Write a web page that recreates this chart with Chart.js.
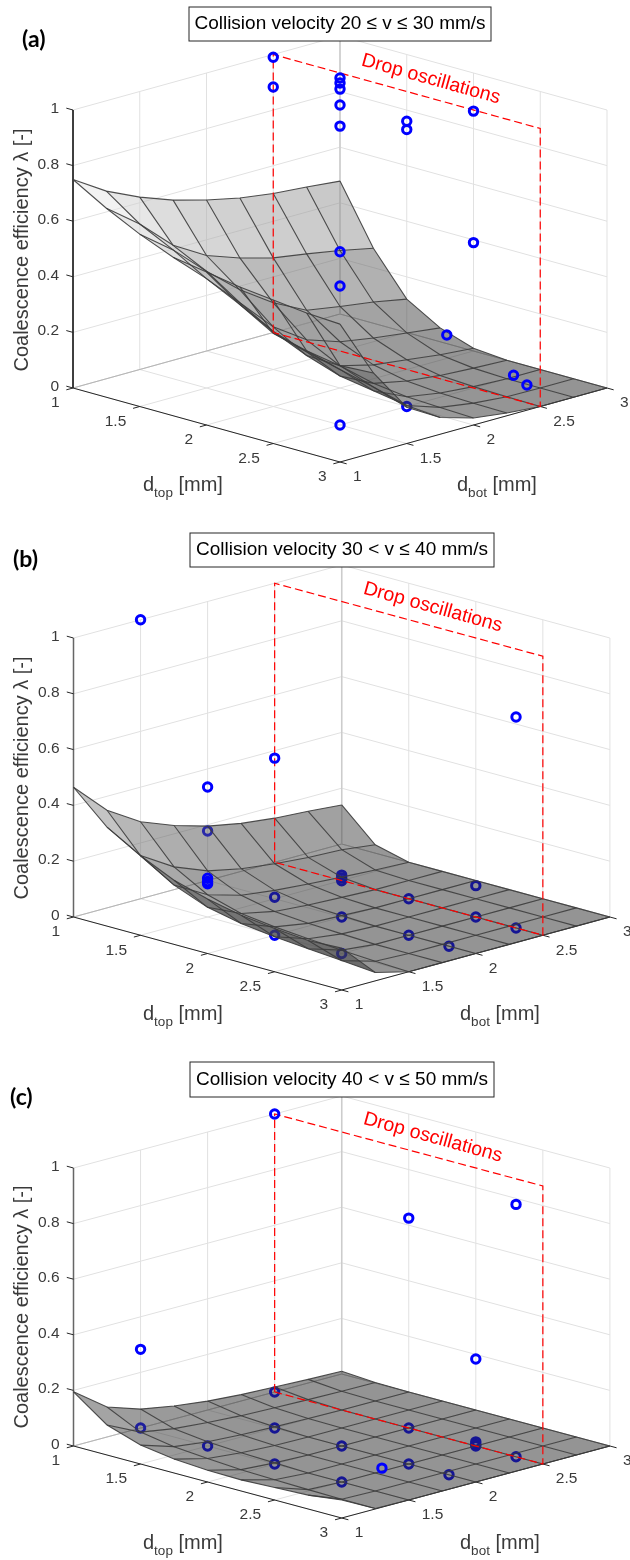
<!DOCTYPE html>
<html>
<head>
<meta charset="utf-8">
<title>Coalescence efficiency</title>
<script src="https://cdn.jsdelivr.net/npm/chart.js@4"></script>
<style>
    html, body { margin: 0; padding: 0; background: #fff; }
    canvas { display: block; }
</style>
</head>
<body>
<canvas id="chartA" width="630" height="520"></canvas>
<canvas id="chartB" width="630" height="520"></canvas>
<canvas id="chartC" width="630" height="520"></canvas>
<script>
// Axis ticks
var dTicks = [1, 1.5, 2, 2.5, 3];
var dTickLabels = ['1', '1.5', '2', '2.5', '3'];
var lambdaTicks = [0, 0.2, 0.4, 0.6, 0.8, 1];
var lambdaTickLabels = ['0', '0.2', '0.4', '0.6', '0.8', '1'];

// Surface grid: rows are d_top, columns are d_bot
var gridValues = [1, 1.25, 1.5, 1.75, 2, 2.25, 2.5, 2.75, 3];

var surfaceA = [
    [0.75, 0.675, 0.62, 0.576, 0.543, 0.517, 0.50, 0.49, 0.478],
    [0.68, 0.59, 0.48, 0.41, 0.368, 0.335, 0.316, 0.295, 0.27],
    [0.62, 0.53, 0.42, 0.32, 0.24, 0.18, 0.16, 0.143, 0.12],
    [0.57, 0.46, 0.34, 0.22, 0.14, 0.10, 0.08, 0.065, 0.05],
    [0.55, 0.40, 0.27, 0.15, 0.08, 0.05, 0.035, 0.02, 0.01],
    [0.53, 0.33, 0.23, 0.11, 0.05, 0.025, 0.012, 0.005, 0],
    [0.516, 0.30, 0.20, 0.09, 0.035, 0.015, 0.005, 0, 0],
    [0.503, 0.28, 0.17, 0.07, 0.03, 0.012, 0.002, 0, 0],
    [0.496, 0.287, 0.13, 0.06, 0.025, 0.01, 0, 0, 0]
];
var surfaceB = [
    [0.465, 0.35, 0.276, 0.23, 0.195, 0.172, 0.158, 0.15, 0.14],
    [0.355, 0.22, 0.147, 0.10, 0.075, 0.06, 0.05, 0.045, 0.03],
    [0.285, 0.147, 0.08, 0.045, 0.03, 0.02, 0.012, 0.005, 0],
    [0.23, 0.10, 0.045, 0.02, 0.01, 0.005, 0, 0, 0],
    [0.195, 0.075, 0.03, 0.01, 0.005, 0, 0, 0, 0],
    [0.17, 0.06, 0.02, 0.005, 0, 0, 0, 0, 0],
    [0.155, 0.05, 0.012, 0, 0, 0, 0, 0, 0],
    [0.145, 0.04, 0.005, 0, 0, 0, 0, 0, 0],
    [0.15, 0.03, 0, 0, 0, 0, 0, 0, 0]
];
var surfaceC = [
    [0.195, 0.108, 0.068, 0.047, 0.032, 0.023, 0.018, 0.013, 0.01],
    [0.108, 0.05, 0.03, 0.02, 0.012, 0.008, 0.005, 0.003, 0.002],
    [0.068, 0.03, 0.015, 0.008, 0.004, 0.002, 0, 0, 0],
    [0.05, 0.02, 0.008, 0.002, 0, 0, 0, 0, 0],
    [0.042, 0.012, 0.004, 0, 0, 0, 0, 0, 0],
    [0.04, 0.008, 0, 0, 0, 0, 0, 0, 0],
    [0.045, 0.005, 0, 0, 0, 0, 0, 0, 0],
    [0.05, 0.003, 0, 0, 0, 0, 0, 0, 0],
    [0.065, 0.002, 0, 0, 0, 0, 0, 0, 0]
];

// Measured drops [d_top, d_bot, lambda]; "under" ones are seen through the surface
var dropsOverA = [
    [1, 2.5, 0.99], [1, 2.5, 0.883],
    [1.5, 2.5, 0.982], [1.5, 2.5, 0.964], [1.5, 2.5, 0.942], [1.5, 2.5, 0.885], [1.5, 2.5, 0.809],
    [2, 2, 0.49], [2, 2, 0.367],
    [2, 2.5, 0.893], [2, 2.5, 0.863],
    [2.5, 2.5, 0.996], [2.5, 2.5, 0.523],
    [2.3, 2.5, 0.164], [2.8, 2.5, 0.086], [2.9, 2.5, 0.064]
];
var dropsUnderA = [[2.5, 1.5, 0], [2.5, 2, 0]];

var dropsOverB = [
    [1, 1.5, 1], [1.5, 1.5, 0.466],
    [1.5, 1.5, 0.139], [1.5, 1.5, 0.127], [1.5, 1.5, 0.119],
    [1.5, 2, 0.504], [2.8, 2.5, 0.756]
];
var dropsUnderB = [
    [1.5, 1.5, 0.308], [2, 1.5, 0.136], [2, 1.5, 0],
    [2, 2, 0.15], [2, 2, 0.14], [2, 2, 0.13], [2, 2, 0], [2.5, 1.5, 0],
    [2, 2.5, 0], [2.5, 2, 0], [2.25, 2.75, 0.047], [2.5, 2.5, 0],
    [2.8, 2, 0], [2.8, 2.5, 0]
];

var dropsOverC = [
    [1, 1.5, 0.283], [1, 2.5, 1], [2, 2.5, 0.755], [2.5, 2.5, 0.313],
    [2.8, 2.5, 0.908], [2.5, 1.8, 0.011]
];
var dropsUnderC = [
    [1, 1.5, 0], [1.5, 1.5, 0], [1, 2.5, 0], [1.5, 2, 0], [2, 1.5, 0],
    [2, 2, 0], [2.5, 1.5, 0], [2, 2.5, 0], [2.5, 2, 0],
    [2.5, 2.5, 0.015], [2.5, 2.5, 0.006], [2.5, 2.5, 0],
    [2.8, 2, 0], [2.8, 2.5, 0]
];

// Drop oscillations boundary: plane d_bot = 2.5
var oscillationBot = 2.5;

var panels = [
    {
        canvas: 'chartA', tag: '(a)', tagX: 22, tagY: 47,
        title: 'Collision velocity 20 \u2264 v \u2264 30 mm/s',
        box: [189, 7, 302, 34], surface: surfaceA, over: dropsOverA, under: dropsUnderA,
        view: { x0: 73, y0: 388, ux: 133.5, uy: 37, uz: 278 },
        zColor: '#262626', zWidth: 1,
        labelY: 491, topX: 143, botX: 457, sideY: 250
    },
    {
        canvas: 'chartB', tag: '(b)', tagX: 13, tagY: 47,
        title: 'Collision velocity 30 < v \u2264 40 mm/s',
        box: [190, 13, 304, 34], surface: surfaceB, over: dropsOverB, under: dropsUnderB,
        view: { x0: 73.5, y0: 397, ux: 134.1, uy: 36.5, uz: 279 },
        zColor: '#666666', zWidth: 1.5,
        labelY: 500, topX: 143, botX: 460, sideY: 258
    },
    {
        canvas: 'chartC', tag: '(c)', tagX: 10, tagY: 65,
        title: 'Collision velocity 40 < v \u2264 50 mm/s',
        box: [190, 22, 304, 35], surface: surfaceC, over: dropsOverC, under: dropsUnderC,
        view: { x0: 73.5, y0: 406, ux: 134.1, uy: 36, uz: 278 },
        zColor: '#666666', zWidth: 1.5,
        labelY: 509, topX: 143, botX: 460, sideY: 267
    }
];

var textFont = '"Liberation Sans", Arial, sans-serif';
var textColor = '#3a3a3a';

// Oblique view of the box, in the units of the hidden chart scales
function project(view, dTop, dBot, lambda) {
    return {
        x: view.x0 + view.ux * ((dTop - 1) + (dBot - 1)),
        y: view.y0 + view.uy * ((dTop - 1) - (dBot - 1)) - view.uz * lambda
    };
}

function lineSet(view, pts, color, width, dash) {
    return {
        type: 'scatter',
        showLine: true,
        data: pts.map(function (p) { return project(view, p[0], p[1], p[2]); }),
        borderColor: color,
        borderWidth: width,
        borderDash: dash || [],
        pointRadius: 0,
        fill: false,
        clip: false
    };
}

function markerSet(view, pts) {
    return {
        type: 'scatter',
        showLine: false,
        data: pts.map(function (p) { return project(view, p[0], p[1], p[2]); }),
        pointStyle: 'circle',
        pointRadius: 4.2,
        pointBorderWidth: 3,
        pointBorderColor: '#0000ff',
        pointBackgroundColor: 'rgba(0,0,0,0)',
        clip: false
    };
}

// Half transparent face: lighter when the face sits higher
function faceSet(view, surface, i, j) {
    var g = gridValues;
    var corners = [
        [g[i], g[j], surface[i][j]],
        [g[i + 1], g[j], surface[i + 1][j]],
        [g[i + 1], g[j + 1], surface[i + 1][j + 1]],
        [g[i], g[j + 1], surface[i][j + 1]],
        [g[i], g[j], surface[i][j]]
    ];
    var mean = (corners[0][2] + corners[1][2] + corners[2][2] + corners[3][2]) / 4;
    var shade = Math.min(255, Math.round(41 + 280 * mean));
    var set = lineSet(view, corners, 'rgba(0,0,0,0)', 0);
    set.fill = 'shape';
    set.backgroundColor = 'rgba(' + shade + ',' + shade + ',' + shade + ',0.5)';
    return set;
}

// Datasets in painting order: walls, hidden drops, surface, wires, red plane, visible drops
function buildDatasets(panel) {
    var view = panel.view;
    var sets = [];
    var gridColor = '#e1e1e1';

    lambdaTicks.forEach(function (z) {
        sets.push(lineSet(view, [[1, 1, z], [1, 3, z], [3, 3, z]], gridColor, 1));
    });
    dTicks.forEach(function (d) {
        sets.push(lineSet(view, [[1, d, 0], [1, d, 1]], gridColor, 1));
        sets.push(lineSet(view, [[d, 3, 0], [d, 3, 1]], gridColor, 1));
        sets.push(lineSet(view, [[d, 1, 0], [d, 3, 0]], gridColor, 1));
        sets.push(lineSet(view, [[1, d, 0], [3, d, 0]], gridColor, 1));
    });
    sets.push(lineSet(view, [[1, 1, 0], [1, 3, 0], [3, 3, 0]], '#b4b4b4', 1));
    sets.push(lineSet(view, [[1, 3, 0], [1, 3, 1]], '#cccccc', 1.5));

    // Axes and tick marks
    sets.push(lineSet(view, [[1, 1, 0], [3, 1, 0], [3, 3, 0]], '#262626', 1));
    sets.push(lineSet(view, [[1, 1, 1], [1, 1, 0]], panel.zColor, panel.zWidth));
    lambdaTicks.forEach(function (z) {
        sets.push(lineSet(view, [[1, 1, z], [0.95, 1, z]], '#262626', 1));
    });
    dTicks.forEach(function (d) {
        sets.push(lineSet(view, [[d, 1, 0], [d, 0.95, 0]], '#262626', 1));
        sets.push(lineSet(view, [[3, d, 0], [3.05, d, 0]], '#262626', 1));
    });

    sets.push(markerSet(view, panel.under));

    var n = gridValues.length;
    for (var i = 0; i < n - 1; i++) {
        for (var j = n - 2; j >= 0; j--) {
            sets.push(faceSet(view, panel.surface, i, j));
        }
    }

    // Surface wires
    var wireColor = 'rgba(60,60,60,0.9)';
    gridValues.forEach(function (g, a) {
        var row = gridValues.map(function (h, b) { return [g, h, panel.surface[a][b]]; });
        var col = gridValues.map(function (h, b) { return [h, g, panel.surface[b][a]]; });
        sets.push(lineSet(view, row, wireColor, 1.1));
        sets.push(lineSet(view, col, wireColor, 1.1));
    });

    sets.push(lineSet(view, [
        [1, oscillationBot, 0], [1, oscillationBot, 1], [3, oscillationBot, 1],
        [3, oscillationBot, 0], [1, oscillationBot, 0]
    ], '#ff0000', 1.2, [8, 4]));

    sets.push(markerSet(view, panel.over));

    // Chart.js paints the first dataset last
    return sets.reverse();
}

function drawSubscripted(ctx, x, y, main, sub, tail) {
    ctx.textAlign = 'left';
    ctx.textBaseline = 'alphabetic';
    ctx.font = '20px ' + textFont;
    ctx.fillText(main, x, y);
    x += ctx.measureText(main).width;
    ctx.font = '13.5px ' + textFont;
    ctx.fillText(sub, x, y + 6);
    x += ctx.measureText(sub).width;
    ctx.font = '20px ' + textFont;
    ctx.fillText(tail, x, y);
}

// Tick labels, axis names, title box and annotation
var labelsPlugin = {
    id: 'panelLabels',
    afterDraw: function (chart) {
        var panel = chart.options.plugins.panelLabels.panel;
        var view = panel.view;
        var ctx = chart.ctx;
        var xs = chart.scales.x;
        var ys = chart.scales.y;
        function at(d1, d2, z) {
            var p = project(view, d1, d2, z);
            return { x: xs.getPixelForValue(p.x), y: ys.getPixelForValue(p.y) };
        }

        ctx.save();
        ctx.fillStyle = textColor;
        ctx.font = '15.5px ' + textFont;
        ctx.textBaseline = 'middle';

        ctx.textAlign = 'right';
        lambdaTicks.forEach(function (z, n) {
            var p = at(1, 1, z);
            ctx.fillText(lambdaTickLabels[n], p.x - 14, p.y - 1.3);
        });
        dTicks.forEach(function (d, n) {
            var p = at(d, 1, 0);
            ctx.fillText(dTickLabels[n], p.x - 13.5, p.y + 15);
        });
        ctx.textAlign = 'left';
        dTicks.forEach(function (d, n) {
            var p = at(3, d, 0);
            ctx.fillText(dTickLabels[n], p.x + 13, p.y + 15);
        });

        drawSubscripted(ctx, panel.topX, panel.labelY, 'd', 'top', ' [mm]');
        drawSubscripted(ctx, panel.botX, panel.labelY, 'd', 'bot', ' [mm]');

        ctx.save();
        ctx.translate(28, panel.sideY);
        ctx.rotate(-Math.PI / 2);
        ctx.textAlign = 'center';
        ctx.textBaseline = 'alphabetic';
        ctx.font = '20px ' + textFont;
        ctx.fillText('Coalescence efficiency \u03bb [-]', 0, 0);
        ctx.restore();

        // Title box
        var b = panel.box;
        ctx.fillStyle = '#ffffff';
        ctx.fillRect(b[0], b[1], b[2], b[3]);
        ctx.strokeStyle = '#262626';
        ctx.lineWidth = 1;
        ctx.strokeRect(b[0], b[1], b[2], b[3]);
        ctx.fillStyle = '#000000';
        ctx.font = '19px ' + textFont;
        ctx.textAlign = 'center';
        ctx.textBaseline = 'middle';
        ctx.fillText(panel.title, b[0] + b[2] / 2, b[1] + b[3] / 2);

        // Panel letter
        ctx.fillStyle = '#000000';
        ctx.font = 'bold 23px Lato, sans-serif';
        ctx.textAlign = 'left';
        ctx.textBaseline = 'alphabetic';
        ctx.fillText(panel.tag, panel.tagX, panel.tagY);

        // Annotation
        var a = at(2.18, oscillationBot, 1.068);
        ctx.save();
        ctx.translate(a.x, a.y);
        ctx.rotate(15.5 * Math.PI / 180);
        ctx.fillStyle = '#ff0000';
        ctx.font = '19.5px ' + textFont;
        ctx.textAlign = 'center';
        ctx.textBaseline = 'middle';
        ctx.fillText('Drop oscillations', 0, 0);
        ctx.restore();

        ctx.restore();
    }
};

panels.forEach(function (panel) {
    new Chart(document.getElementById(panel.canvas).getContext('2d'), {
        type: 'scatter',
        data: { datasets: buildDatasets(panel) },
        options: {
            responsive: false,
            animation: false,
            layout: { padding: 0, autoPadding: false },
            elements: { line: { tension: 0 } },
            scales: {
                x: { type: 'linear', min: 0, max: 630, display: false },
                y: { type: 'linear', min: 0, max: 520, reverse: true, display: false }
            },
            plugins: {
                legend: { display: false },
                tooltip: { enabled: false },
                panelLabels: { panel: panel }
            }
        },
        plugins: [labelsPlugin]
    });
});
</script>
</body>
</html>
